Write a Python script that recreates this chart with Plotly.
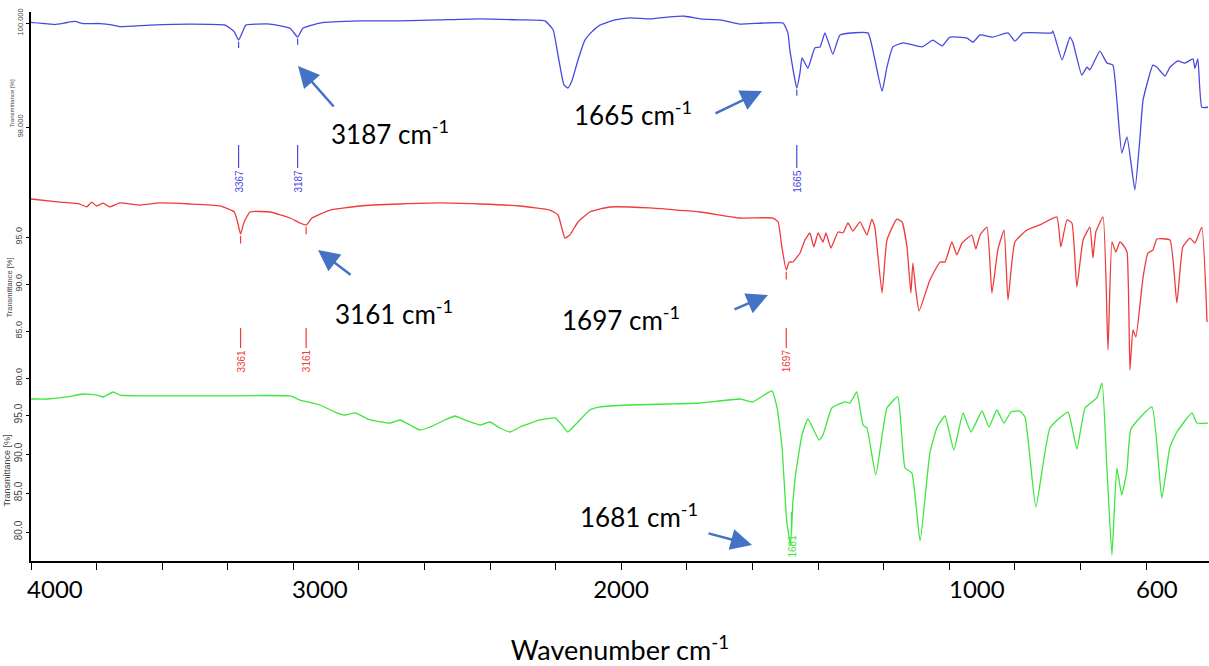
import plotly.graph_objects as go

# ---------------- data ----------------
blue_wn = [4000, 3997, 3957, 3942, 3927, 3890, 3866, 3841, 3790, 3750, 3729, 3637, 3515, 3408,
           3380, 3367, 3355, 3345, 3271, 3210, 3187, 3171, 3119, 2997, 2875, 2753, 2631, 2509,
           2433, 2408, 2393, 2375, 2363, 2350, 2332, 2311, 2290, 2265, 2219, 2174, 2113, 2052,
           2006, 1960, 1899, 1838, 1707, 1692, 1686, 1665, 1655, 1649, 1631, 1610, 1594, 1579,
           1555, 1533, 1448, 1433, 1405, 1390, 1372, 1341, 1283, 1250, 1222, 1198, 1146, 1128,
           1106, 1067, 1021, 1000, 975, 887, 884, 856, 832, 823, 796, 780, 771, 741, 719, 701,
           689, 674, 658, 634, 619, 609, 579, 567, 542, 527, 503, 482, 457, 451, 442, 430, 411]
blue_t = [100.02, 100.01, 99.99, 99.98, 99.97, 100.01, 100.03, 99.99, 99.99, 99.96, 99.93, 99.96,
          99.98, 99.96, 99.83, 99.67, 99.83, 99.96, 99.98, 99.90, 99.73, 99.90, 100.00, 100.04,
          100.04, 100.06, 100.08, 100.06, 100.04, 99.87, 99.38, 98.81, 98.75, 98.90, 99.29, 99.67,
          99.83, 99.96, 100.06, 100.10, 100.08, 100.12, 100.13, 100.08, 100.06, 99.98, 100.00,
          99.81, 99.48, 98.75, 99.05, 99.33, 99.13, 99.52, 99.54, 99.81, 99.40, 99.77, 99.81,
          99.48, 98.69, 99.15, 99.54, 99.62, 99.54, 99.67, 99.56, 99.73, 99.71, 99.63, 99.77,
          99.73, 99.81, 99.65, 99.81, 99.81, 99.85, 99.29, 99.73, 99.63, 99.00, 99.15, 99.10,
          99.46, 99.23, 99.19, 98.52, 97.50, 97.81, 96.79, 97.75, 98.52, 99.19, 99.15, 98.98,
          99.15, 99.27, 99.23, 99.31, 99.13, 99.31, 98.38, 98.38]

red_wn = [4000, 3912, 3851, 3830, 3815, 3800, 3780, 3760, 3729, 3668, 3607, 3515, 3424, 3380,
          3368, 3361, 3350, 3332, 3271, 3210, 3180, 3161, 3143, 3088, 2997, 2875, 2753, 2631,
          2509, 2418, 2393, 2372, 2357, 2332, 2296, 2235, 2113, 1960, 1838, 1738, 1722, 1710,
          1697, 1688, 1677, 1655, 1640, 1625, 1613, 1600, 1585, 1576, 1561, 1539, 1524, 1509,
          1494, 1472, 1451, 1436, 1427, 1405, 1390, 1360, 1344, 1329, 1317, 1311, 1302, 1292,
          1259, 1228, 1213, 1192, 1177, 1161, 1131, 1119, 1106, 1085, 1070, 1052, 1033, 1021,
          1000, 963, 924, 872, 860, 841, 826, 811, 792, 771, 762, 753, 731, 716, 704, 692, 680,
          670, 658, 649, 640, 631, 609, 594, 579, 567, 527, 506, 488, 466, 451, 430, 414]
red_t = [99.04, 98.72, 98.51, 98.2, 98.7, 98.3, 98.6, 98.2, 98.62, 98.40, 98.62, 98.51, 98.30,
         97.66, 96.28, 95.3, 96.60, 97.66, 97.66, 97.02, 96.49, 96.28, 97.02, 97.87, 98.30, 98.51,
         98.62, 98.51, 98.30, 97.87, 97.34, 94.89, 95.21, 96.60, 97.66, 98.19, 98.09, 97.66,
         97.02, 97.02, 96.60, 93.83, 91.49, 92.34, 92.34, 93.30, 94.68, 95.43, 93.94, 95.43,
         94.47, 95.43, 93.83, 95.53, 95.43, 96.49, 95.64, 96.60, 95.21, 96.91, 96.06, 89.04,
         94.68, 96.91, 96.60, 93.94, 89.04, 92.23, 89.36, 87.13, 90.43, 92.34, 92.34, 94.47,
         93.09, 94.36, 95.21, 93.72, 95.21, 96.06, 89.04, 93.62, 95.74, 88.30, 94.47, 95.74,
         96.28, 97.13, 93.94, 96.81, 96.49, 89.68, 94.68, 96.06, 92.77, 95.53, 97.13, 82.98,
         94.47, 93.40, 94.47, 94.15, 93.40, 80.85, 85.11, 84.36, 90.74, 93.30, 93.62, 94.79,
         94.68, 87.98, 93.94, 94.89, 94.36, 96.06, 85.96]

green_wn = [4000, 3997, 3951, 3890, 3841, 3799, 3780, 3750, 3729, 3485, 3210, 3180, 3119, 3073,
            3043, 3012, 2966, 2905, 2875, 2844, 2814, 2783, 2738, 2707, 2677, 2631, 2601, 2570,
            2540, 2509, 2448, 2402, 2381, 2363, 2341, 2296, 2265, 2174, 2052, 1960, 1838, 1799,
            1741, 1725, 1710, 1696, 1684, 1677, 1668, 1649, 1631, 1597, 1585, 1558, 1518, 1503,
            1482, 1463, 1451, 1424, 1390, 1357, 1335, 1314, 1289, 1259, 1238, 1213, 1186, 1158,
            1134, 1100, 1079, 1055, 1033, 1012, 985, 969, 936, 893, 838, 811, 786, 750, 734, 719,
            704, 689, 674, 658, 646, 582, 552, 527, 506, 460, 445, 411]
green_t = [97.05, 97.05, 97.05, 97.31, 97.69, 97.56, 97.31, 97.95, 97.56, 97.44, 97.44, 96.92,
           96.28, 95.38, 95.00, 95.26, 94.36, 93.97, 94.36, 93.72, 93.08, 93.46, 94.36, 94.87,
           94.36, 93.72, 94.10, 93.33, 92.82, 93.46, 94.36, 94.62, 93.72, 92.82, 93.72, 95.64,
           96.03, 96.28, 96.41, 96.54, 97.05, 96.67, 98.08, 95.90, 90.90, 81.54, 78.33, 83.72,
           87.56, 92.44, 94.49, 91.79, 92.44, 95.90, 96.67, 96.54, 97.95, 93.72, 93.33, 87.31,
           95.90, 97.31, 88.21, 87.56, 78.85, 90.13, 93.33, 94.87, 90.51, 95.26, 92.82, 95.51,
           93.46, 95.64, 93.97, 95.38, 95.51, 94.74, 83.21, 93.33, 95.38, 90.64, 95.90, 97.18,
           99.10, 87.95, 77.05, 88.21, 84.74, 87.95, 93.21, 96.03, 84.36, 90.90, 92.82, 95.26,
           93.97, 93.97]

blue_peaks = [3367, 3187, 1665]
red_peaks = [3361, 3161, 1697]
green_peaks = [1681]

# tick labels as they are printed under the axis, and the wavenumber where each is drawn
x_label_text = ["4000", "3000", "2000", "1000", "600"]
x_label_pos = [3927, 3119, 2201, 1116, 567]
x_minor_ticks = [4000, 3800, 3600, 3400, 3200, 3000, 2800, 2600, 2400, 2200, 2000,
                 1800, 1600, 1400, 1200, 1000, 800, 600]

callouts = [("3187", 3187), ("1665", 1665), ("3161", 3161), ("1697", 1697), ("1681", 1681)]

# ---------------- styling ----------------
BLUE = "#4848e0"
RED = "#ee3c3c"
GREEN = "#3ce63c"
ARROW = "#4472C4"
W, H = 1209, 666
ML, MB = 31, 105
PH = H - MB  # plot height in px


def pp(py):
    return (PH - py) / PH


def px(x):
    return (x - ML) / (W - ML)


line_kw = dict(width=1.3, shape="spline", smoothing=0.4)
fig = go.Figure()
fig.add_trace(go.Scatter(x=blue_wn, y=blue_t, mode="lines", xaxis="x", yaxis="y",
                         line=dict(color=BLUE, **line_kw), showlegend=False))
fig.add_trace(go.Scatter(x=red_wn, y=red_t, mode="lines", xaxis="x", yaxis="y2",
                         line=dict(color=RED, **line_kw), showlegend=False))
fig.add_trace(go.Scatter(x=green_wn, y=green_t, mode="lines", xaxis="x", yaxis="y3",
                         line=dict(color=GREEN, **line_kw), showlegend=False))

yax_common = dict(showgrid=False, zeroline=False, showline=True, linecolor="black", linewidth=2,
                  ticks="outside", ticklen=3, tickcolor="black", tickangle=-90,
                  automargin=False, anchor="x")

fig.update_layout(
    width=W, height=H,
    margin=dict(l=ML, r=0, t=0, b=MB),
    paper_bgcolor="white", plot_bgcolor="white",
    xaxis=dict(range=[4000, 408], anchor="y3", showgrid=False, zeroline=False,
               showline=True, linecolor="black", linewidth=2,
               tickmode="array", tickvals=x_label_pos, ticktext=x_label_text, ticks="",
               ticklabelstandoff=6,
               tickfont=dict(family="Lato", size=24, color="black"),
               minor=dict(tickmode="array", tickvals=x_minor_ticks, ticks="outside",
                          ticklen=7, tickwidth=1, tickcolor="black", showgrid=False),
               title=dict(text="Wavenumber cm<sup>-1</sup>", standoff=40,
                          font=dict(family="Lato", size=27, color="black")),
               automargin=False),
    yaxis=dict(domain=[pp(195), pp(12)], range=[96.692, 100.212],
               tickvals=[98, 100], tickformat=".3f",
               tickfont=dict(family="Liberation Sans", size=7.5, color="#444"),
               title=dict(text="Transmittance [%]", standoff=1,
                          font=dict(family="Liberation Sans", size=6, color="#444")),
               **yax_common),
    yaxis2=dict(domain=[pp(380), pp(195)], range=[79.787, 99.468],
                tickvals=[80, 85, 90, 95], tickformat=".1f",
                tickfont=dict(family="Liberation Sans", size=9, color="#444"),
                title=dict(text="Transmittance [%]", standoff=1,
                           font=dict(family="Liberation Sans", size=7.5, color="#444")),
                **yax_common),
    yaxis3=dict(domain=[0, pp(380)], range=[76.282, 99.487],
                tickvals=[80, 85, 90, 95], tickformat=".1f",
                tickfont=dict(family="Liberation Sans", size=10, color="#444"),
                title=dict(text="Transmittance [%]", standoff=1,
                           font=dict(family="Liberation Sans", size=9, color="#444")),
                **yax_common),
)

# peak position labels (rotated) with their leader lines
peak_sets = [
    (blue_peaks, BLUE, 181, 145, 168),
    (red_peaks, RED, 361, 328, 348),
    (green_peaks, GREEN, 546, 512, 533),
]
for peaks, col, ty, ly0, ly1 in peak_sets:
    for p in peaks:
        fig.add_annotation(x=p, xref="x", y=pp(ty), yref="paper", text=str(p), textangle=-90,
                           showarrow=False, xanchor="center", yanchor="middle",
                           font=dict(family="Liberation Sans", size=10, color=col))
        fig.add_shape(type="line", xref="x", yref="paper", x0=p, x1=p, y0=pp(ly0), y1=pp(ly1),
                      line=dict(color=col, width=1.2))

# little marker ticks just under each labelled peak on the trace
for peaks, wn, tt, col, yr, gap, ln in [
    (blue_peaks, blue_wn, blue_t, BLUE, "y", 0.03, 0.12),
    (red_peaks, red_wn, red_t, RED, "y2", 0.2, 0.8),
]:
    for p in peaks:
        tv = tt[wn.index(p)]
        fig.add_shape(type="line", xref="x", yref=yr, x0=p, x1=p, y0=tv - gap, y1=tv - gap - ln,
                      line=dict(color=col, width=1.2))

# call-out texts and arrows (pixel layout)
label_px = [(390, 132), (633, 113), (394, 312), (621, 318), (639, 515)]
arrow_px = [((298, 66), (335, 108)), ((762, 91), (714, 114)), ((318, 250), (352, 276)),
            ((768, 295), (733, 310)), ((752, 545), (707, 533))]
for (txt, _), (lx, ly), ((hx, hy), (tx, ty)) in zip(callouts, label_px, arrow_px):
    fig.add_annotation(x=px(lx), y=pp(ly), xref="paper", yref="paper",
                       text=f"{txt} cm<sup>-1</sup>", showarrow=False,
                       xanchor="center", yanchor="middle",
                       font=dict(family="Lato", size=26, color="black"))
    fig.add_annotation(x=px(hx), y=pp(hy), xref="paper", yref="paper", text="",
                       showarrow=True, arrowhead=2, arrowsize=1.7, arrowwidth=2.5,
                       arrowcolor=ARROW, ax=tx - hx, ay=ty - hy, standoff=0)

fig.write_html("out.html", config={"displayModeBar": False},
               post_script="document.body.style.margin='0';document.body.style.overflow='hidden';")
